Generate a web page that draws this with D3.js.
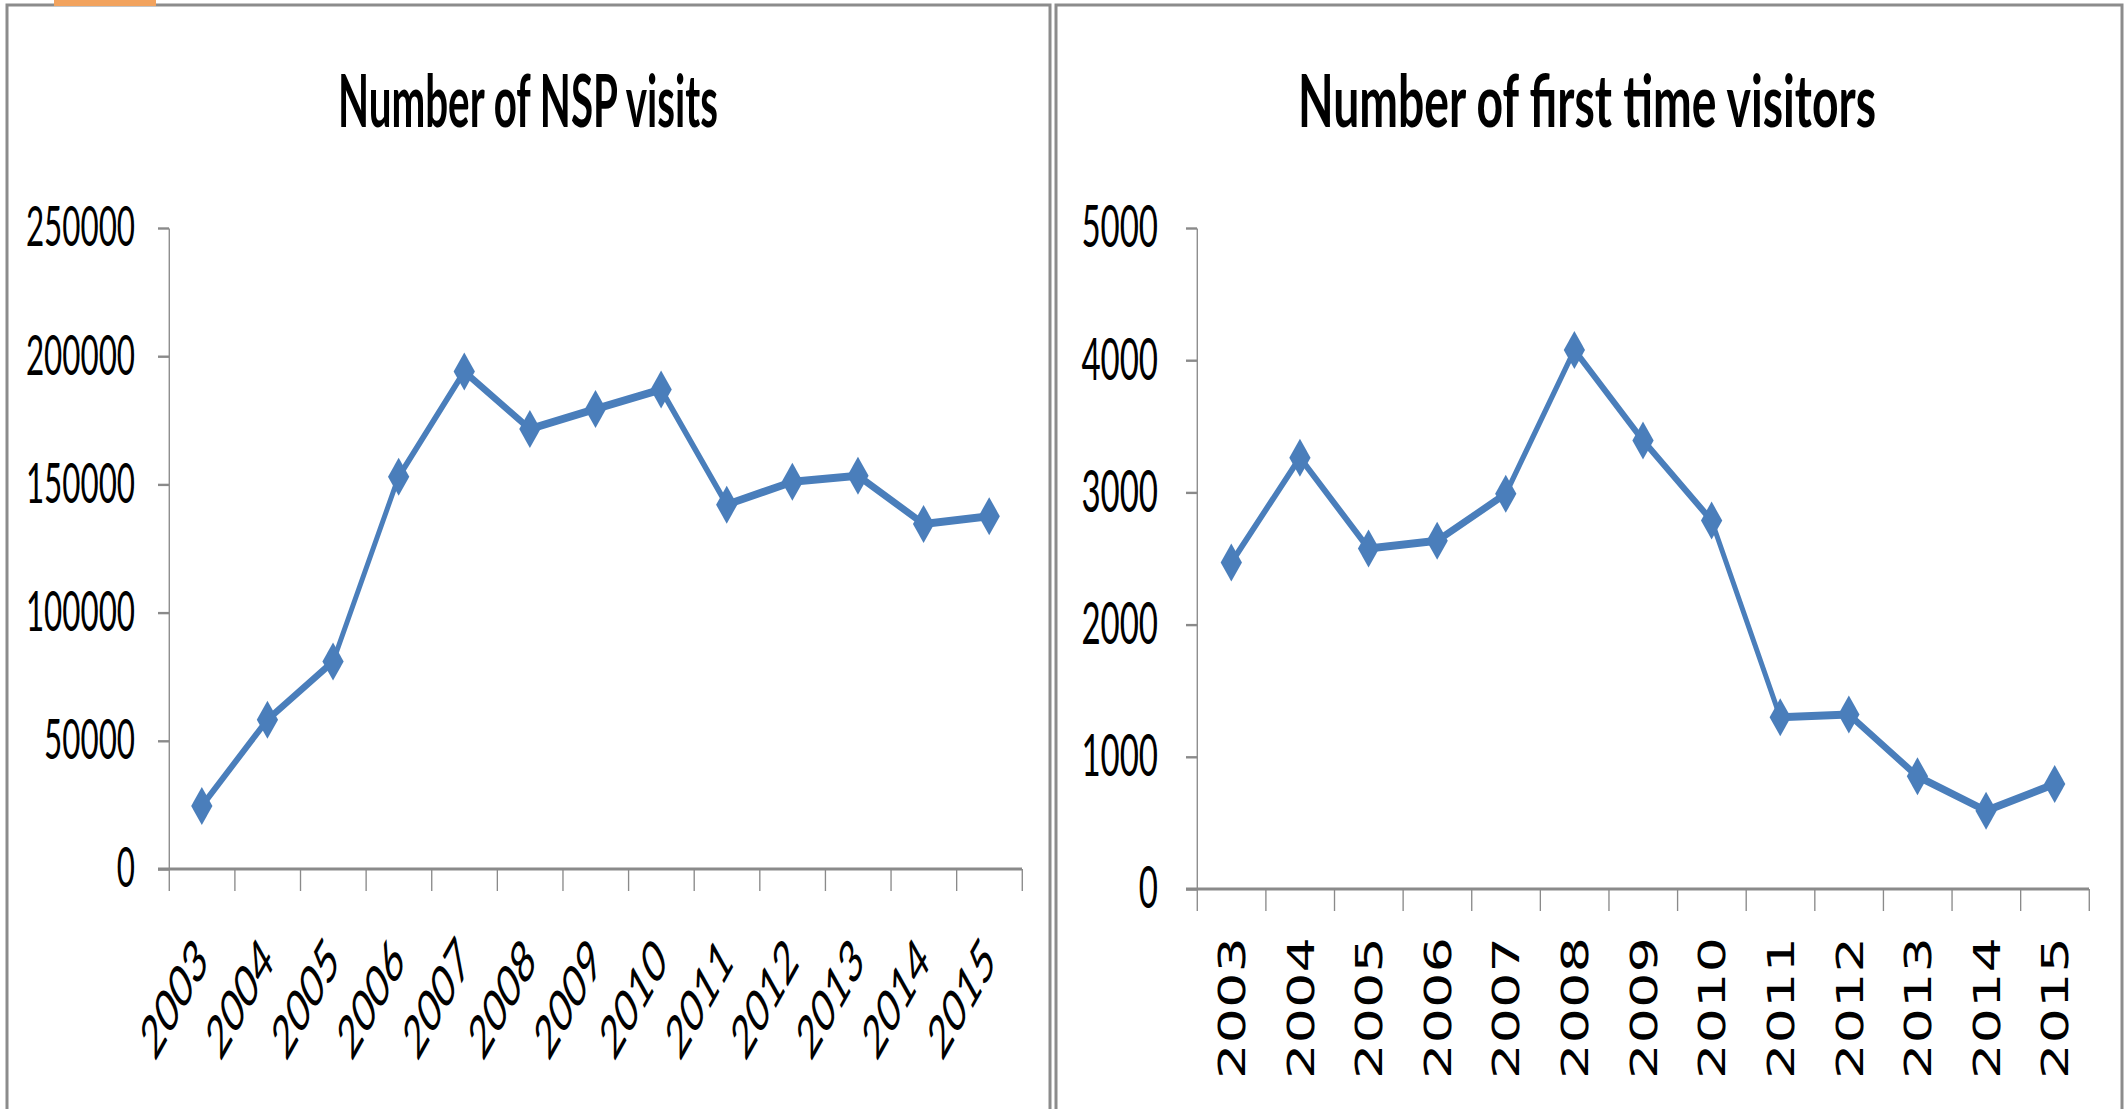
<!DOCTYPE html>
<html>
<head>
<meta charset="utf-8">
<script src="https://cdn.jsdelivr.net/npm/d3@7.9.0/dist/d3.min.js"></script>
<style>
  html, body { margin: 0; padding: 0; background: #fff; }
  svg { display: block; }
</style>
</head>
<body>
<svg id="chart" width="2125" height="1109"></svg>
<script>
// values
const years = ['2003', '2004', '2005', '2006', '2007', '2008', '2009',
  '2010', '2011', '2012', '2013', '2014', '2015'];
const nspVisits = [24600, 58200, 80900, 153000, 194000, 171600, 179400,
  187000, 142100, 151000, 153400, 134600, 137600];
const firstTimeVisitors = [2469, 3263, 2576, 2634, 2989, 4077, 3393,
  2787, 1299, 1320, 852, 592, 794];
const nspTicks = [0, 50000, 100000, 150000, 200000, 250000];
const visitorTicks = [0, 1000, 2000, 3000, 4000, 5000];
const titles = ['Number of NSP visits', 'Number of first time visitors'];

// the source picture is squeezed sideways, so draw in a wider space and scale x
const sx = 0.56;
const ix = (v) => v / sx;
const blue = '#4a7ebb';
const axisGrey = '#8a8a8a';
const frameGrey = '#8c8c8c';

const svg = d3.select('#chart');

// panel frames
svg.append('rect').attr('x', 7).attr('y', 5).attr('width', 1043).attr('height', 1120)
  .attr('fill', 'none').attr('stroke', frameGrey).attr('stroke-width', 3);
svg.append('rect').attr('x', 1056).attr('y', 5).attr('width', 1066).attr('height', 1120)
  .attr('fill', 'none').attr('stroke', frameGrey).attr('stroke-width', 3);
svg.append('rect').attr('x', 54).attr('y', 0).attr('width', 102).attr('height', 6)
  .attr('fill', '#f2a35e');

function drawPanel(opts) {
  const g = svg.append('g').attr('transform', `scale(${sx},1)`);

  const x = d3.scaleBand().domain(years).range([ix(opts.left), ix(opts.right)]);
  const y = d3.scaleLinear().domain([0, d3.max(opts.ticks)]).range([opts.bottom, opts.top]);

  // title
  g.append('text')
    .attr('x', ix(opts.titleX))
    .attr('y', 127)
    .attr('text-anchor', 'middle')
    .attr('font-family', 'Lato, sans-serif')
    .attr('font-weight', 'bold')
    .attr('font-size', 73)
    .attr('textLength', ix(opts.titleW))
    .attr('lengthAdjust', 'spacingAndGlyphs')
    .text(opts.title);

  // y axis
  const yAxis = g.append('g')
    .attr('transform', `translate(${ix(opts.left)},0)`)
    .call(d3.axisLeft(y)
      .tickValues(opts.ticks)
      .tickSize(ix(11))
      .tickSizeOuter(0)
      .tickPadding(ix(opts.pad))
      .tickFormat(d3.format('d')));
  yAxis.attr('font-family', 'Lato, sans-serif').attr('font-size', opts.yFont);
  yAxis.selectAll('path, line').attr('stroke', axisGrey).attr('stroke-width', 2.4);
  yAxis.selectAll('text').attr('fill', '#000');

  // x axis: ticks on category edges
  const edge = d3.scaleLinear().domain([0, years.length]).range(x.range());
  const xAxis = g.append('g')
    .attr('transform', `translate(0,${opts.bottom})`)
    .call(d3.axisBottom(edge)
      .tickValues(d3.range(years.length + 1))
      .tickSize(22)
      .tickSizeOuter(0)
      .tickFormat(''));
  xAxis.select('.domain').remove();
  xAxis.selectAll('line').attr('stroke', axisGrey).attr('stroke-width', 2.4);
  xAxis.append('line')
    .attr('x1', ix(opts.left - 11)).attr('x2', x.range()[1])
    .attr('stroke', axisGrey).attr('stroke-width', 3);

  // category labels
  const labels = g.append('g').selectAll('text').data(years).join('text').text((d) => d);
  if (opts.slanted) {
    labels
      .attr('font-family', 'Lato, sans-serif')
      .attr('font-size', 60)
      .attr('text-anchor', 'end')
      .attr('transform', (d) =>
        `translate(${x(d) + x.bandwidth() / 2 + ix(8)},${opts.labelY}) rotate(-45)`);
  } else {
    labels
      .attr('font-family', '"DejaVu Sans", sans-serif')
      .attr('font-size', 68)
      .attr('text-anchor', 'end')
      .attr('dy', '0.36em')
      .attr('textLength', 142)
      .attr('lengthAdjust', 'spacingAndGlyphs')
      .attr('transform', (d) =>
        `translate(${x(d) + x.bandwidth() / 2},${opts.labelY}) rotate(-90)`);
  }

  // series
  const cx = (d, i) => x(years[i]) + x.bandwidth() / 2;
  g.append('path')
    .datum(opts.values)
    .attr('fill', 'none')
    .attr('stroke', blue)
    .attr('stroke-width', 8)
    .attr('stroke-linejoin', 'round')
    .attr('d', d3.line().x(cx).y((d) => y(d)));

  g.append('g').selectAll('path').data(opts.values).join('path')
    .attr('fill', blue)
    .attr('transform', (d, i) => `translate(${cx(d, i)},${y(d)})`)
    .attr('d', 'M0,-19L19,0L0,19L-19,0Z');
}

drawPanel({
  values: nspVisits, ticks: nspTicks, title: titles[0],
  left: 169, right: 1022, top: 228, bottom: 869,
  titleX: 528, titleW: 380, pad: 23, yFont: 56,
  slanted: true, labelY: 964,
});

drawPanel({
  values: firstTimeVisitors, ticks: visitorTicks, title: titles[1],
  left: 1197, right: 2089, top: 228, bottom: 889,
  titleX: 1587, titleW: 578, pad: 28, yFont: 59,
  slanted: false, labelY: 937,
});
</script>
</body>
</html>
